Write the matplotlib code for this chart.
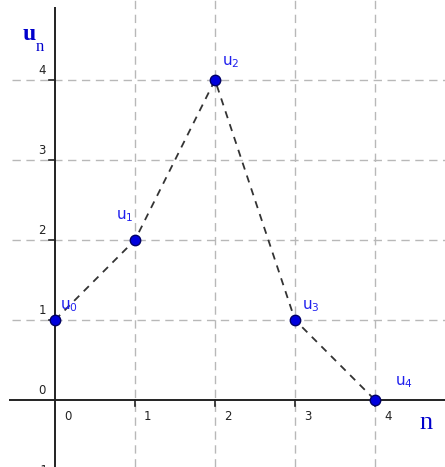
import numpy as np
import matplotlib.pyplot as plt

# donnees de la suite
n_vals = [0, 1, 2, 3, 4]
u_vals = [1, 2, 4, 1, 0]
noms = ['u$_0$', 'u$_1$', 'u$_2$', 'u$_3$', 'u$_4$']
# decalage des etiquettes (pixels)
decalages = [(5, 6), (-19, 16), (7, 10), (7, 6), (20, 10)]
x_ticks = [0, 1, 2, 3, 4]
y_ticks = [-1, 0, 1, 2, 3, 4]

plt.rcParams['mathtext.default'] = 'regular'

fig = plt.figure(figsize=(4.45, 4.67), dpi=100)
ax = fig.add_axes([0, 0, 1, 1])
ax.set_xlim(-55 / 80, 390 / 80)
ax.set_ylim(-67 / 80, 400 / 80)
ax.set_axis_off()

# grille
for x in x_ticks[1:]:
    ax.vlines(x, -0.84, 5.0, colors='#b8b8b8', linestyles=(0, (6, 4)), lw=1, zorder=1)
for y in y_ticks[2:]:
    ax.hlines(y, -0.54, 4.9, colors='#b8b8b8', linestyles=(0, (6, 4)), lw=1, zorder=1)

# axes
ax.hlines(0, -0.57, 4.9, colors='#222222', lw=1.4, zorder=2)
ax.vlines(0, -0.84, 4.91, colors='#222222', lw=1.4, zorder=2)
for x in x_ticks[1:]:
    ax.plot([x, x], [0.0, -0.075], color='#222222', lw=1.2, zorder=2)
for y in y_ticks[2:]:
    ax.plot([-0.07, 0.0], [y, y], color='#222222', lw=1.2, zorder=2)

# graduations
for x in x_ticks:
    ax.annotate(str(x), (x, 0), xytext=(9, -17), textcoords='offset pixels',
                fontsize=8.5, color='#222222', ha='left', va='center')
for y in y_ticks:
    if y == -1:
        lab = '-1'
    else:
        lab = str(y)
    ax.annotate(lab, (0, y), xytext=(-13, 10), textcoords='offset pixels',
                fontsize=8.5, color='#222222', ha='center', va='center',
                annotation_clip=False)

# suite
ax.plot(n_vals, u_vals, color='#333333', lw=1.3, ls=(0, (4, 3.5)), zorder=3)
ax.plot(n_vals, u_vals, 'o', ms=7.5, mfc='#0000dd', mec='#000066', mew=1, zorder=4)
for x, y, nom, d in zip(n_vals, u_vals, noms, decalages):
    ax.annotate(nom, (x, y), xytext=d, textcoords='offset pixels',
                fontsize=11, color='#2020ee', ha='left', va='bottom')

# noms des axes
ax.text(-0.41, 4.57, 'u', fontsize=17, fontweight='bold', color='#0000cc',
        family='Liberation Serif', ha='left', va='center')
ax.text(-0.24, 4.41, 'n', fontsize=12, color='#0000cc',
        family='Liberation Serif', ha='left', va='center')
ax.text(4.55, -0.29, 'n', fontsize=19, color='#0000cc',
        family='Liberation Serif', ha='left', va='center')

fig.savefig('out.png', dpi=100)
